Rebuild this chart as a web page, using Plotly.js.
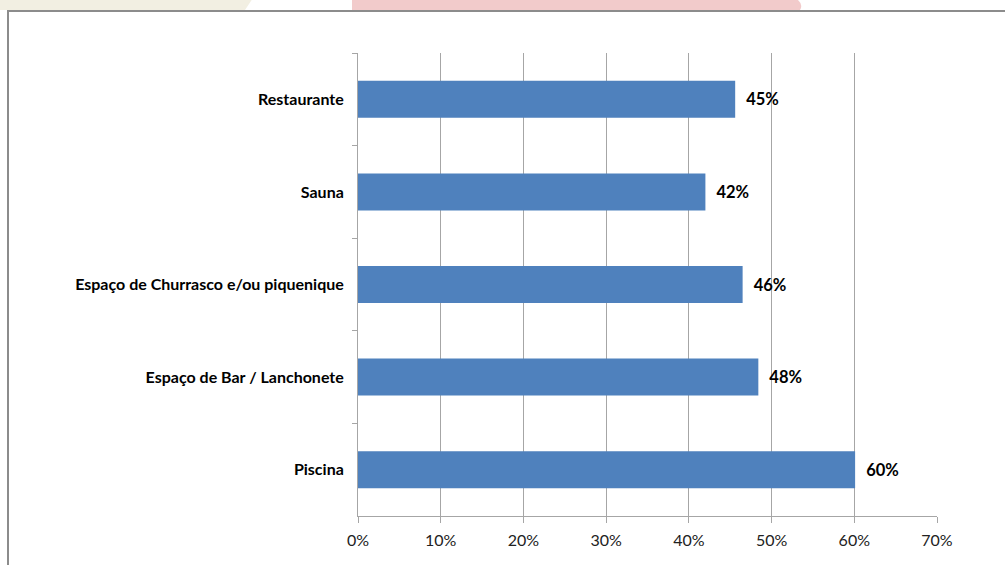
<!DOCTYPE html>
<html>
<head>
<meta charset="utf-8">
<script src="https://cdn.plot.ly/plotly-3.0.1.min.js"></script>
<style>html,body{margin:0;padding:0;background:#fff;}#chart{width:1005px;height:565px;}</style>
</head>
<body>
<div id="chart"></div>
<script>
const categories = ["Restaurante", "Sauna", "Espaço de Churrasco e/ou piquenique", "Espaço de Bar / Lanchonete", "Piscina"];
const values = [45.6, 42.0, 46.5, 48.4, 60.1];
const valueLabels = ["45%", "42%", "46%", "48%", "60%"];
const tickValues = [0, 10, 20, 30, 40, 50, 60, 70];
const tickLabels = ["0%", "10%", "20%", "30%", "40%", "50%", "60%", "70%"];

const trace = {
  type: "bar",
  orientation: "h",
  y: categories,
  x: values,
  text: valueLabels.map(t => "  " + t),
  textposition: "outside",
  cliponaxis: false,
  textfont: {family: "Lato, 'Open Sans', sans-serif", size: 16.5, color: "#000", weight: "bold"},
  marker: {color: "#4f81bd", line: {width: 0}},
  width: 0.4,
  hoverinfo: "none"
};

const layout = {
  width: 1005, height: 565,
  margin: {l: 358, r: 68, t: 53, b: 49},
  paper_bgcolor: "#ffffff",
  plot_bgcolor: "#ffffff",
  showlegend: false,
  xaxis: {
    range: [0, 70],
    tickvals: tickValues,
    ticktext: tickLabels,
    showgrid: true, gridcolor: "#a6a6a6", gridwidth: 1,
    showline: true, linecolor: "#a6a6a6", linewidth: 1,
    ticks: "outside", ticklen: 6, tickcolor: "#a6a6a6",
    ticklabelstandoff: 4,
    zeroline: false,
    tickfont: {family: "Lato, 'Open Sans', sans-serif", size: 16, color: "#222"},
    fixedrange: true
  },
  yaxis: {
    autorange: "reversed",
    type: "category",
    showgrid: false,
    showline: true, linecolor: "#a6a6a6", linewidth: 1,
    ticks: "outside", ticklen: 5, tickcolor: "#a6a6a6",
    tickson: "boundaries",
    ticklabelstandoff: 10,
    tickfont: {family: "Lato, 'Open Sans', sans-serif", size: 16, color: "#000", weight: "bold"},
    fixedrange: true
  },
  shapes: []
};

const plotW = 1005 - 358 - 68, plotH = 565 - 53 - 49;
function px(x){ return (x - 358) / plotW; }
function py(y){ return (565 - 49 - y) / plotH; }
layout.shapes.push({type: "path", xref: "paper", yref: "paper", layer: "below",
  path: `M ${px(0)},${py(-5)} L ${px(255)},${py(-5)} L ${px(245)},${py(10)} L ${px(0)},${py(10)} Z`,
  fillcolor: "#f2efe2", line: {width: 0}});
layout.shapes.push({type: "path", xref: "paper", yref: "paper", layer: "below",
  path: `M ${px(352)},${py(-5)} L ${px(790)},${py(-5)} Q ${px(805)},${py(2)} ${px(800)},${py(10)} L ${px(352)},${py(10)} Z`,
  fillcolor: "#f2cbcb", line: {width: 0}});
layout.shapes.push({type: "rect", xref: "paper", yref: "paper", layer: "below",
  x0: px(8), x1: px(1010), y0: py(575), y1: py(11),
  fillcolor: "#ffffff", line: {color: "#8c8c8c", width: 2}});

Plotly.newPlot("chart", [trace], layout, {displayModeBar: false, staticPlot: true});
</script>
</body>
</html>
